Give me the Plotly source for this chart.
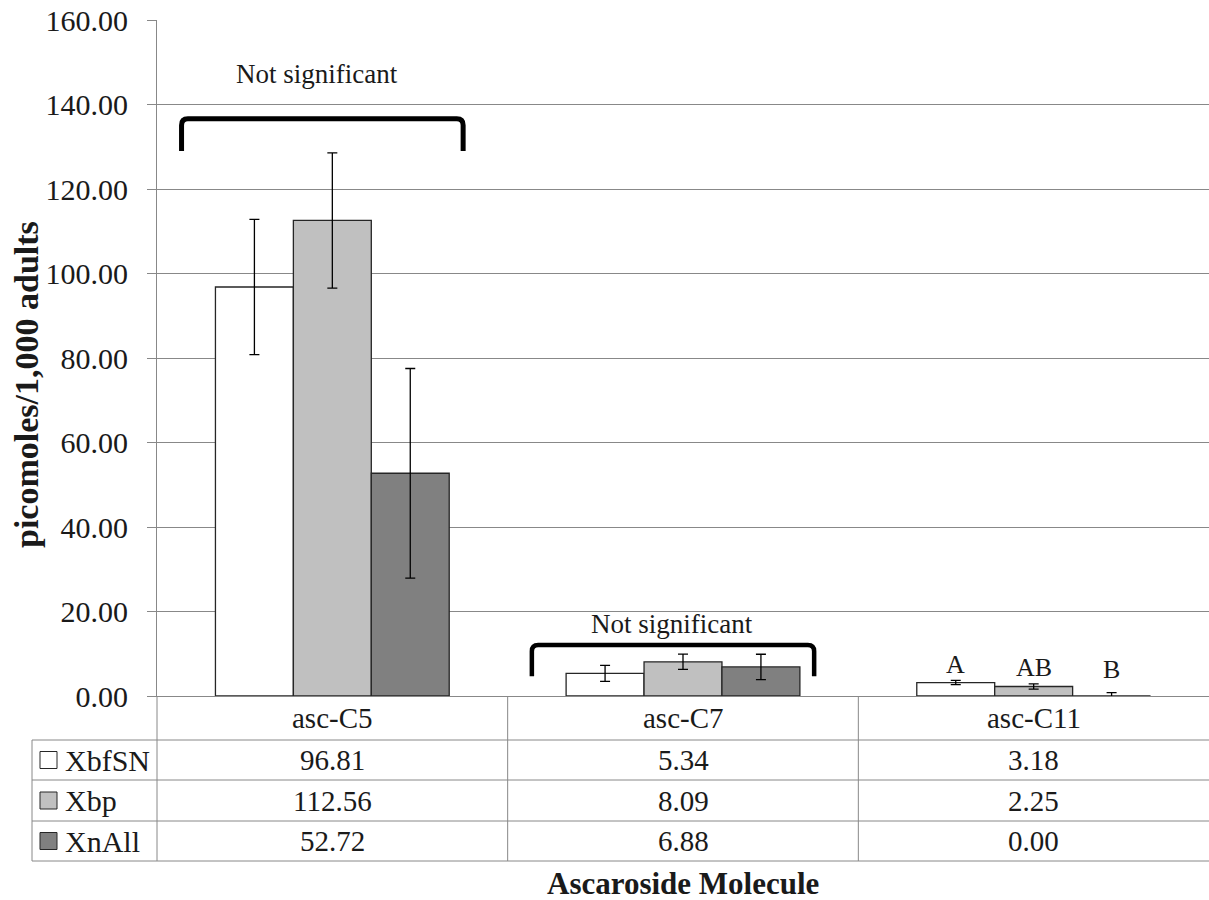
import plotly.graph_objects as go

# Ascaroside amounts per strain (picomoles per 1,000 adults)
molecules = ["asc-C5", "asc-C7", "asc-C11"]
strains = ["XbfSN", "Xbp", "XnAll"]
xbfsn = [96.81, 5.34, 3.18]
xbp = [112.56, 8.09, 2.25]
xnall = [52.72, 6.88, 0.00]
xbfsn_err = [16.0, 1.9, 0.5]
xbp_err = [16.0, 1.8, 0.6]
xnall_err = [24.8, 3.0, 0.8]
bar_colors = ["#ffffff", "#c0c0c0", "#808080"]
y_ticks = [0, 20, 40, 60, 80, 100, 120, 140, 160]

# significance letters over the asc-C11 group
letters = ["A", "AB", "B"]

FONT = "Times New Roman, Liberation Serif, serif"
W, H = 1209, 900
L, R, T, B = 157, 0, 20, 204
PW, PH = W - L - R, H - T - B


def px_x(px):
    return (px - L) / PW


def px_y(py):
    return (H - B - py) / PH


series = [xbfsn, xbp, xnall]
errors = [xbfsn_err, xbp_err, xnall_err]
pos = list(range(len(molecules)))

fig = go.Figure()
for name, vals, errs, col in zip(strains, series, errors, bar_colors):
    fig.add_trace(go.Bar(
        x=pos, y=vals, name=name,
        marker=dict(color=col, line=dict(color="#262626", width=1.3)),
        error_y=dict(type="data", array=errs, color="#000000",
                     thickness=1.3, width=5),
        showlegend=False,
    ))

shapes = []
annotations = []


def text(x, y, s, size, xref="paper", yref="paper", xanchor="center", **kw):
    annotations.append(dict(x=x, y=y, xref=xref, yref=yref, text=s, showarrow=False,
                            xanchor=xanchor, yanchor="middle",
                            font=dict(family=FONT, size=size, color="#1a1a1a"), **kw))


def bracket(x0, x1, ytop, ybot, lw):
    rx, ry = 0.018, 1.5
    path = (f"M {x0},{ybot} L {x0},{ytop - ry} Q {x0},{ytop} {x0 + rx},{ytop} "
            f"L {x1 - rx},{ytop} Q {x1},{ytop} {x1},{ytop - ry} L {x1},{ybot}")
    return dict(type="path", xref="x", yref="y", path=path,
                line=dict(color="#000000", width=lw))


# brackets over asc-C5 and asc-C7
shapes.append(bracket(-0.43, 0.373, 136.6, 129.0, 5))
shapes.append(bracket(0.569, 1.374, 12.1, 4.7, 4.5))
text(-0.045, 147.3, "Not significant", 27, xref="x", yref="y")
text(0.97, 17.1, "Not significant", 27, xref="x", yref="y")

bw = 0.2222
for i, (lab, vals, errs) in enumerate(zip(letters, series, errors)):
    top = vals[2] + errs[2]
    text(2 + (i - 1) * bw, top + 3.8 if i < 2 else 6.2, lab, 26, xref="x", yref="y")

# data table beneath the plot
grid = "#888888"
row_lines = [740, 780, 821, 861]
for py in row_lines:
    shapes.append(dict(type="line", xref="paper", yref="paper",
                       x0=px_x(32), x1=1, y0=px_y(py), y1=px_y(py),
                       line=dict(color=grid, width=1)))
shapes.append(dict(type="line", xref="paper", yref="paper",
                   x0=px_x(32), x1=px_x(32), y0=px_y(740), y1=px_y(861),
                   line=dict(color=grid, width=1)))
shapes.append(dict(type="line", xref="paper", yref="paper",
                   x0=0, x1=0, y0=0, y1=px_y(861),
                   line=dict(color=grid, width=1)))
for xb in [0.5, 1.5]:
    shapes.append(dict(type="line", xref="x", yref="paper",
                       x0=xb, x1=xb, y0=0, y1=px_y(861),
                       line=dict(color=grid, width=1)))

for i, m in enumerate(molecules):
    text(i, px_y(718), m, 29, xref="x")

row_centers = [760, 800.5, 841]
for name, vals, col, yc in zip(strains, series, bar_colors, row_centers):
    shapes.append(dict(type="rect", xref="paper", yref="paper",
                       x0=px_x(40), x1=px_x(57), y0=px_y(yc + 8.5), y1=px_y(yc - 8.5),
                       fillcolor=col, line=dict(color="#262626", width=1)))
    text(px_x(63), px_y(yc), name, 30, xanchor="left")
    for i, v in enumerate(vals):
        text(i, px_y(yc), f"{v:.2f}", 29, xref="x")

# axis titles
text(px_x(683), px_y(884), "<b>Ascaroside Molecule</b>", 31)
text(px_x(27), px_y(385), "<b>picomoles/1,000 adults</b>", 34, textangle=-90)

fig.update_layout(
    width=W, height=H,
    margin=dict(l=L, r=R, t=T, b=B, pad=0),
    plot_bgcolor="#ffffff", paper_bgcolor="#ffffff",
    barmode="group", bargap=1 / 3, bargroupgap=0,
    shapes=shapes, annotations=annotations,
    font=dict(family=FONT, color="#1a1a1a"),
    xaxis=dict(range=[-0.5, 2.5], showticklabels=False, showgrid=False,
               zeroline=False, showline=True, linecolor=grid, linewidth=1, ticks=""),
    yaxis=dict(range=[0, 160], tickvals=y_ticks, tickformat=".2f",
               showgrid=True, gridcolor=grid, gridwidth=1,
               zeroline=True, zerolinecolor=grid, zerolinewidth=1,
               showline=True, linecolor=grid, linewidth=1,
               ticks="outside", ticklen=9, tickcolor=grid, ticklabelstandoff=13,
               tickfont=dict(family=FONT, size=30, color="#1a1a1a")),
)

fig.write_html("out.html")
